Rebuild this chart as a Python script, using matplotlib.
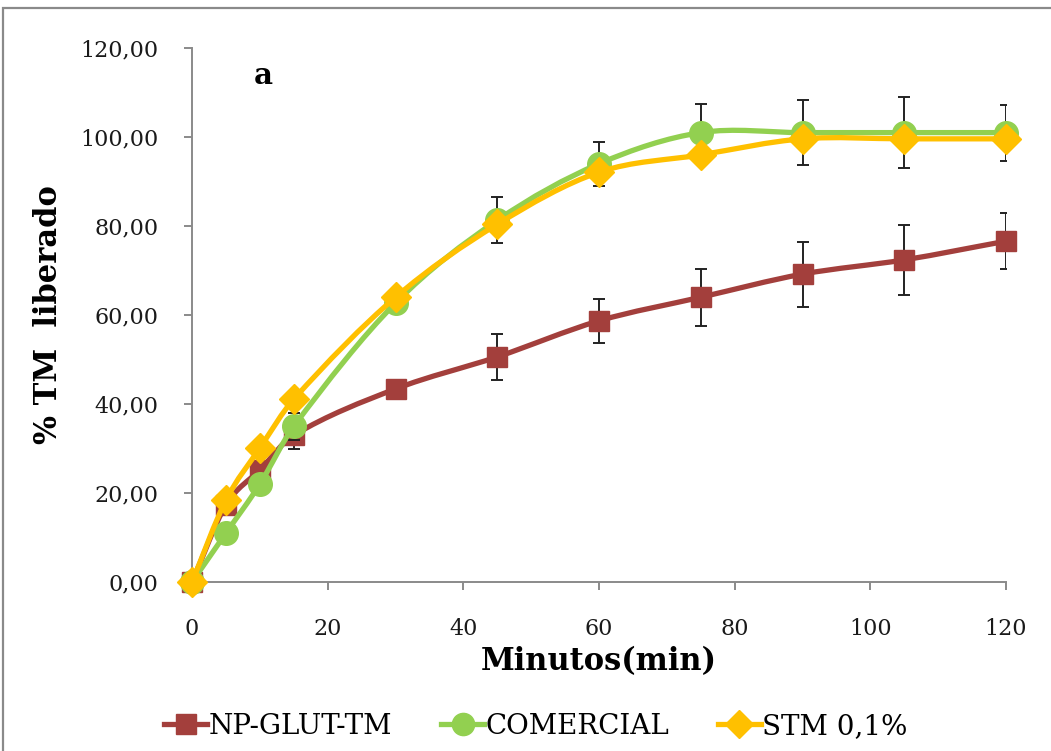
import numpy as np
import matplotlib
matplotlib.use("Agg")
import matplotlib.pyplot as plt
from matplotlib.path import Path
from matplotlib.patches import PathPatch, Rectangle
from matplotlib.lines import Line2D
from matplotlib.ticker import FuncFormatter

# data
minutos = [0, 5, 10, 15, 30, 45, 60, 75, 90, 105, 120]
np_glut_tm = [0, 17.3, 25.2, 33.0, 43.4, 50.6, 58.7, 64.0, 69.2, 72.4, 76.6]
comercial = [0, 11.0, 22.0, 35.0, 62.7, 81.3, 94.0, 101.0, 101.0, 101.0, 101.0]
stm = [0, 18.4, 30.1, 41.1, 64.0, 80.4, 92.1, 96.0, 99.6, 99.6, 99.6]
erro = [0, 0, 0, 3.0, 1.5, 5.2, 5.0, 6.4, 7.3, 7.9, 6.3]

series_names = ["NP-GLUT-TM", "COMERCIAL", "STM 0,1%"]
colors = ["#A33F3C", "#92D050", "#FFC000"]
markers = ["s", "o", "D"]
msizes = [15, 17, 15]

plt.rcParams['font.family'] = ['DejaVu Serif']


# smoothed line like excel: hermite cubic per segment, drawn as bezier
def smooth_path(x, y):
    x = np.asarray(x, float)
    y = np.asarray(y, float)
    n = len(x)
    slope = np.zeros(n)
    for i in range(n):
        a = max(i - 1, 0)
        b = min(i + 1, n - 1)
        slope[i] = (y[b] - y[a]) / (x[b] - x[a])
    verts = [(x[0], y[0])]
    codes = [Path.MOVETO]
    for i in range(n - 1):
        dx = x[i + 1] - x[i]
        verts += [(x[i] + dx / 3, y[i] + slope[i] * dx / 3),
                  (x[i + 1] - dx / 3, y[i + 1] - slope[i + 1] * dx / 3),
                  (x[i + 1], y[i + 1])]
        codes += [Path.CURVE4] * 3
    return Path(verts, codes)


fig = plt.figure(figsize=(10.51, 7.51), dpi=100)
ax = fig.add_axes([0.1827, 0.225, 0.7745, 0.711])

# chart border
fig.patches.append(Rectangle((3 / 1051, -0.05), 1.1, 743 / 751 + 0.05, transform=fig.transFigure,
                             fill=False, edgecolor="#8a8a8a", lw=1.6))

all_y = [np_glut_tm, comercial, stm]
handles = []
for k, yv in enumerate(all_y):
    if k < 2:
        ax.errorbar(minutos, yv, yerr=erro, fmt="none", ecolor="#222222", elinewidth=1.4,
                    capsize=4, capthick=1.4, zorder=2 + k * 2)
    patch = PathPatch(smooth_path(minutos, yv), facecolor="none", edgecolor=colors[k],
                      lw=3.8, zorder=3 + k * 2, transform=ax.transData, capstyle="round")
    ax.add_patch(patch)
    ax.plot(minutos, yv, linestyle="none", marker=markers[k], ms=msizes[k],
            color=colors[k], mec=colors[k], zorder=3.5 + k * 2, clip_on=False)
    handles.append(Line2D([], [], color=colors[k], lw=3.8, marker=markers[k],
                          ms=msizes[k] - 1))

ax.set_xlim(0, 120)
ax.set_ylim(0, 120)
ax.set_xticks(range(0, 121, 20))
ax.set_yticks(range(0, 121, 20))
ax.yaxis.set_major_formatter(FuncFormatter(lambda v, p: f"{v:.2f}".replace(".", ",")))

for s in ["top", "right"]:
    ax.spines[s].set_visible(False)
for s in ["left", "bottom"]:
    ax.spines[s].set_color("#8a8a8a")
    ax.spines[s].set_linewidth(1.4)
ax.tick_params(axis="both", direction="out", length=6, width=1.4, color="#8a8a8a",
               labelsize=16, labelcolor="#1a1a1a")
ax.tick_params(axis="y", pad=18)
ax.tick_params(axis="x", pad=20)

ax.set_xlabel("Minutos(min)", fontsize=22, fontweight="bold", labelpad=4)
ax.set_ylabel("% TM  liberado", fontsize=22, fontweight="bold", labelpad=12)
ax.text(0.088, 0.975, "a", transform=ax.transAxes, fontsize=21, fontweight="bold",
        va="top", ha="center")

fig.legend(handles, series_names, loc="center", bbox_to_anchor=(0.51, 0.033), ncol=3,
           frameon=False, fontsize=20, handlelength=1.55, handletextpad=0.05,
           columnspacing=1.75)

fig.savefig("out.png", dpi=100)
